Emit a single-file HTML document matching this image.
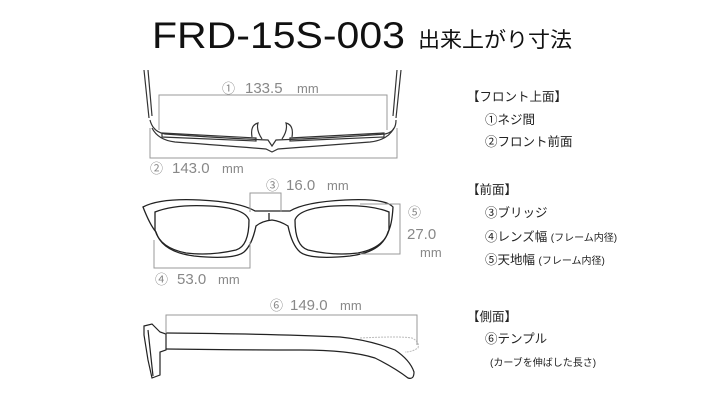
<!DOCTYPE html>
<html><head><meta charset="utf-8"><style>
body{margin:0;background:#fff;width:714px;height:400px;overflow:hidden}
svg{display:block}
.j{font-family:"Liberation Sans","Noto Sans CJK JP",sans-serif}
</style></head><body>
<svg width="714" height="400" viewBox="0 0 714 400" class="j">
<text x="152" y="48" font-size="37" fill="#111" textLength="253" lengthAdjust="spacingAndGlyphs">FRD-15S-003</text>
<text x="418" y="47" font-size="21" fill="#111" textLength="154" lengthAdjust="spacingAndGlyphs">出来上がり寸法</text>

<!-- top view -->
<g fill="none" stroke="#333" stroke-width="1.2">
<path d="M144 70 L149 118 M148 70 L152 116 M401 70 L396 118 M397 70 L393 116"/>
<path d="M150 120 Q153 132 165 134 Q220 138 268 140 L272 146 L276 140 Q330 138 385 134 Q396 132 396 120"/>
<path d="M152 128 Q158 140 175 142 Q230 146 266 149 L272 152 L278 149 Q320 146 370 142 Q388 140 394 128"/>
<path d="M162 133 L256 138 L256 141 L162 137Z M384 133 L290 138 L290 141 L384 137Z"/>
<path d="M252 137 Q250 125 258 123 Q256 130 262 139 M292 137 Q294 125 286 123 Q288 130 282 139"/>
</g>
<g fill="none" stroke="#999" stroke-width="1">
<path d="M159 130 V95 H387 V130"/>
<path d="M150 128 V158 H397 V128"/>
</g>
<text x="222" y="93" font-size="13" fill="#888">①</text>
<text x="245" y="93" font-size="15" fill="#888">133.5</text>
<text x="297" y="93" font-size="13" fill="#888">mm</text>
<text x="150" y="173" font-size="13" fill="#888">②</text>
<text x="172" y="173" font-size="15" fill="#888">143.0</text>
<text x="222" y="173" font-size="13" fill="#888">mm</text>

<!-- front view -->
<g fill="none" stroke="#222" stroke-width="1.3">
<path d="M143 207 Q160 198 200 200 Q240 202 255 211 L290 211 Q305 202 345 200 Q385 198 393 207 Q392 225 388 232 Q382 252 350 256 Q310 260 300 252 Q292 245 288 226 Q280 221 272 220 Q262 221 256 226 Q252 245 244 252 Q234 260 194 256 Q162 252 156 232 Q150 225 143 207Z"/>
<path d="M155 212 Q175 204 210 206 Q245 208 249 220 Q249 246 236 250 Q210 256 186 253 Q160 248 155 230Z"/>
<path d="M389 212 Q369 204 334 206 Q299 208 295 220 Q295 246 308 250 Q334 256 358 253 Q384 248 389 230Z"/>
<path d="M269 213 V220"/>
</g>
<g fill="none" stroke="#999" stroke-width="1">
<path d="M250 212 V193 H281 V212"/>
<path d="M154 240 V268 H250 V242"/>
<path d="M360 204 H400 V254 H360"/>
</g>
<text x="266" y="190" font-size="13" fill="#888">③</text>
<text x="286" y="190" font-size="15" fill="#888">16.0</text>
<text x="327" y="190" font-size="13" fill="#888">mm</text>
<text x="155" y="284" font-size="13" fill="#888">④</text>
<text x="177" y="284" font-size="15" fill="#888">53.0</text>
<text x="218" y="284" font-size="13" fill="#888">mm</text>
<text x="408" y="217" font-size="13" fill="#888">⑤</text>
<text x="407" y="239" font-size="15" fill="#888">27.0</text>
<text x="420" y="257" font-size="13" fill="#888">mm</text>

<!-- side view -->
<g fill="none" stroke="#222" stroke-width="1.2">
<path d="M144 326 L152 324 L160 332 L166 334 L166 350 L160 352 L160 375 L152 378 L148 360 L144 335Z"/>
<path d="M148 330 L153 376"/>
<path d="M166 333 Q280 334 340 337 Q370 340 395 350 Q410 360 414 372 Q414 380 408 378 Q395 368 375 358 Q350 350 300 350 Q230 350 166 349"/>
</g>
<path d="M360 338 Q400 336 412 338 Q420 342 418 348 Q412 352 405 352" fill="none" stroke="#bbb" stroke-width="1" stroke-dasharray="2,1"/>
<path d="M166 333 V315 H417 V345" fill="none" stroke="#999" stroke-width="1"/>
<text x="270" y="310" font-size="13" fill="#888">⑥</text>
<text x="290" y="310" font-size="15" fill="#888">149.0</text>
<text x="340" y="310" font-size="13" fill="#888">mm</text>

<!-- right list -->
<g font-size="12.5" fill="#222">
<text x="467" y="101">【フロント上面】</text>
<text x="485" y="124">①ネジ間</text>
<text x="485" y="146">②フロント前面</text>
<text x="467" y="194">【前面】</text>
<text x="485" y="217">③ブリッジ</text>
<text x="485" y="241">④レンズ幅 <tspan font-size="10">(フレーム内径)</tspan></text>
<text x="485" y="264">⑤天地幅 <tspan font-size="10">(フレーム内径)</tspan></text>
<text x="467" y="321">【側面】</text>
<text x="485" y="343">⑥テンプル</text>
<text x="490" y="366" font-size="10">(カーブを伸ばした長さ)</text>
</g>
</svg>
</body></html>
